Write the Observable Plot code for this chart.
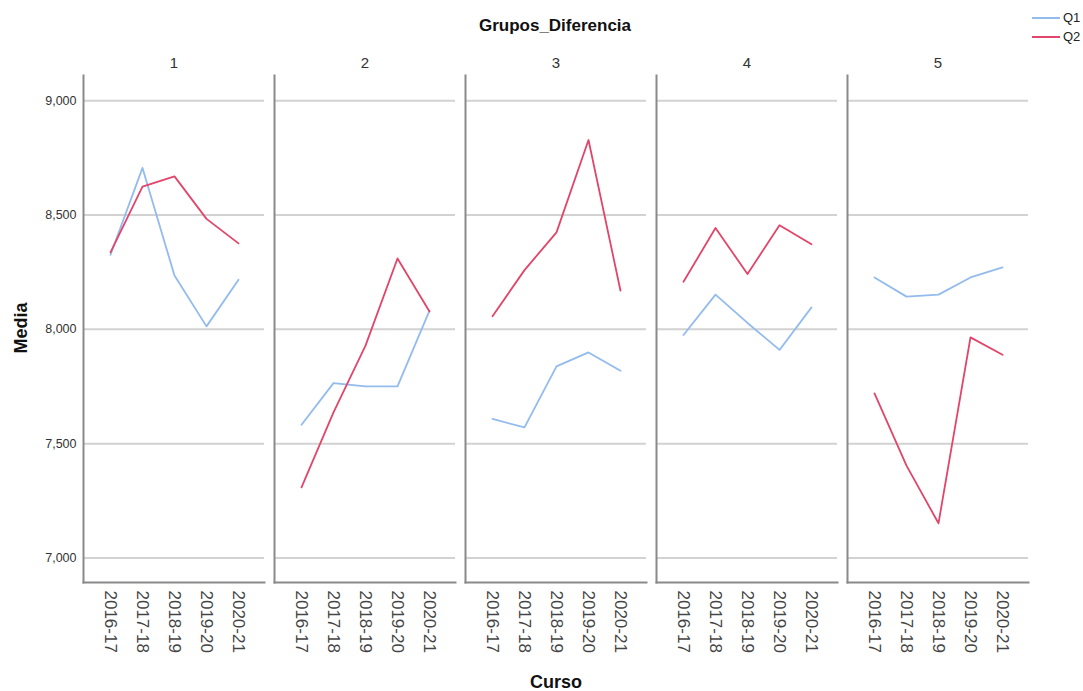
<!DOCTYPE html>
<html>
<head>
<meta charset="utf-8">
<script src="https://cdn.jsdelivr.net/npm/d3@7"></script>
<script src="https://cdn.jsdelivr.net/npm/@observablehq/plot@0.6"></script>
<style>
  html, body { margin: 0; padding: 0; background: #fff; }
  #wrap { position: relative; width: 1083px; height: 691px; font-family: "Liberation Sans", Arial, sans-serif; }
  .ov { position: absolute; white-space: nowrap; color: #111; }
  .legend-row { position: absolute; left: 1032px; display: flex; align-items: center; font-size: 13px; color: #222; }
  .legend-row span.sw { display: inline-block; width: 28px; height: 2px; margin-right: 3px; }
</style>
</head>
<body>
<div id="wrap"></div>
<script>
const grupos = ["1", "2", "3", "4", "5"];
const cursos = ["2016-17", "2017-18", "2018-19", "2019-20", "2020-21"];
const series = ["Q1", "Q2"];
const yTicks = [7000, 7500, 8000, 8500, 9000];
// Media por grupo (filas) y curso (columnas)
const q1 = [
  [8326, 8706, 8235, 8013, 8217],
  [7583, 7765, 7751, 7751, 8082],
  [7608, 7571, 7838, 7899, 7819],
  [7975, 8152, 8028, 7910, 8096],
  [8227, 8143, 8152, 8227, 8271]
];
const q2 = [
  [8337, 8624, 8669, 8483, 8376],
  [7309, 7637, 7929, 8310, 8078],
  [8057, 8259, 8424, 8828, 8169],
  [8208, 8443, 8242, 8455, 8372],
  [7720, 7404, 7152, 7965, 7889]
];

const colors = ["#93bbee", "#e2456a"];

const data = [];
grupos.forEach((g, gi) => {
  cursos.forEach((c, ci) => {
    data.push({grupo: g, curso: c, serie: "Q1", media: q1[gi][ci]});
    data.push({grupo: g, curso: c, serie: "Q2", media: q2[gi][ci]});
  });
});

const yMin = 6893, yMax = 9110;
const fmt = d3.format(",.0f");

const chart = Plot.plot({
  width: 1083,
  height: 691,
  marginLeft: 83,
  marginRight: 54,
  marginTop: 75,
  marginBottom: 109,
  style: {fontFamily: "'Liberation Sans', Arial, sans-serif", background: "white", color: "#333"},
  fx: {domain: grupos, padding: 0.05, label: null},
  x: {type: "point", domain: cursos, padding: 0.77, label: null},
  y: {domain: [yMin, yMax], label: null},
  color: {domain: series, range: colors},
  marks: [
    Plot.gridY(yTicks, {stroke: "#d2d2d2", strokeOpacity: 1, strokeWidth: 2}),
    Plot.frame({anchor: "left", stroke: "#8a8a8a", strokeWidth: 2}),
    Plot.frame({anchor: "bottom", stroke: "#8a8a8a", strokeWidth: 2}),
    Plot.line(data, {fx: "grupo", x: "curso", y: "media", z: "serie", stroke: "serie", strokeWidth: 1.8}),
    Plot.axisY(yTicks, {tickSize: 0, tickPadding: 7, tickFormat: (d) => fmt(d), fontSize: 12.5, label: null}),
    Plot.axisX({tickSize: 0, tickPadding: 8, tickRotate: 90, fontSize: 17, fill: "#444", label: null}),
    Plot.axisFx({anchor: "top", tickSize: 0, tickPadding: 8, fontSize: 15, label: null})
  ]
});

const wrap = document.getElementById("wrap");
wrap.appendChild(chart);

function addText(txt, css) {
  const d = document.createElement("div");
  d.className = "ov";
  d.textContent = txt;
  Object.assign(d.style, css);
  wrap.appendChild(d);
}
addText("Grupos_Diferencia", {left: "555px", top: "16px", transform: "translateX(-50%)", fontSize: "17px", fontWeight: "bold"});
addText("Curso", {left: "556px", top: "672px", transform: "translateX(-50%)", fontSize: "18px", fontWeight: "bold"});
addText("Media", {left: "21px", top: "328px", transform: "translate(-50%, -50%) rotate(-90deg)", fontSize: "18px", fontWeight: "bold"});

series.forEach((s, i) => {
  const row = document.createElement("div");
  row.className = "legend-row";
  row.style.top = (10 + i * 19) + "px";
  const sw = document.createElement("span");
  sw.className = "sw";
  sw.style.background = colors[i];
  row.appendChild(sw);
  const t = document.createElement("span");
  t.textContent = s;
  row.appendChild(t);
  wrap.appendChild(row);
});
</script>
</body>
</html>
